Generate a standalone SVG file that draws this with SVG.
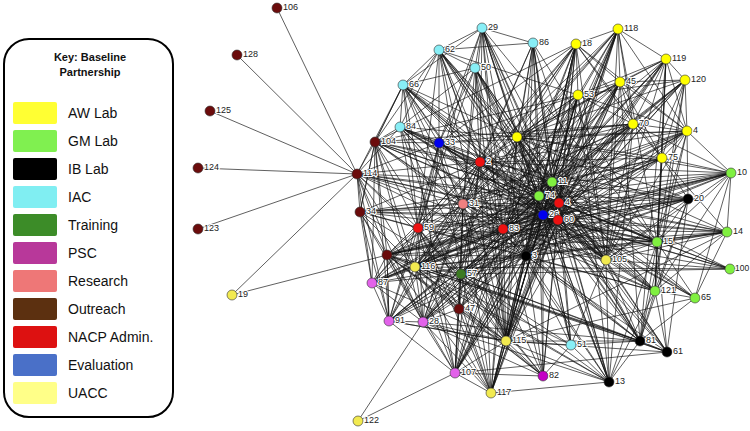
<svg xmlns="http://www.w3.org/2000/svg" width="750" height="431" viewBox="0 0 750 431">
<style>
.e{fill:none;stroke:#141414;stroke-width:0.75;stroke-opacity:0.9}
.node circle{stroke:#303030;stroke-width:0.6}
.node text{font-family:"Liberation Sans",Arial,sans-serif;font-size:9px;fill:#222;paint-order:stroke;stroke:#fff;stroke-width:2;stroke-linejoin:round}
.aw{fill:#ffff00}.ua{fill:#f2ea50}.gm{fill:#80f040}.ib{fill:#000}.iac{fill:#88eef6}.tr{fill:#3c7a22}.psc{fill:#e262ea}.psc2{fill:#c400c4}.rs{fill:#f08080}.br{fill:#6b0c0c}.na{fill:#ee1111}.ev{fill:#0000ee}
.key text{font-family:"Liberation Sans",Arial,sans-serif;font-size:14px;fill:#111}
.key .t{font-size:11px;font-weight:bold;text-anchor:middle}
.sw{stroke:none}
</style>
<rect width="750" height="431" fill="#fff"/>
<g id="legend" class="key">
<rect x="4" y="39" width="169" height="378" rx="25" fill="#fff" stroke="#000" stroke-width="2"/>
<text class="t" x="90" y="61">Key: Baseline</text>
<text class="t" x="90" y="76">Partnership</text>
<rect class="sw" x="13" y="102" width="44" height="22" rx="2" fill="#ffff33"/><text x="68" y="118">AW Lab</text>
<rect class="sw" x="13" y="130" width="44" height="22" rx="2" fill="#80f050"/><text x="68" y="146">GM Lab</text>
<rect class="sw" x="13" y="158" width="44" height="22" rx="2" fill="#000"/><text x="68" y="174">IB Lab</text>
<rect class="sw" x="13" y="186" width="44" height="22" rx="2" fill="#80eef2"/><text x="68" y="202">IAC</text>
<rect class="sw" x="13" y="214" width="44" height="22" rx="2" fill="#3c8c28"/><text x="68" y="230">Training</text>
<rect class="sw" x="13" y="242" width="44" height="22" rx="2" fill="#b8389a"/><text x="68" y="258">PSC</text>
<rect class="sw" x="13" y="270" width="44" height="22" rx="2" fill="#ee7777"/><text x="68" y="286">Research</text>
<rect class="sw" x="13" y="298" width="44" height="22" rx="2" fill="#5c3010"/><text x="68" y="314">Outreach</text>
<rect class="sw" x="13" y="326" width="44" height="22" rx="2" fill="#dd1111"/><text x="68" y="342">NACP Admin.</text>
<rect class="sw" x="13" y="354" width="44" height="22" rx="2" fill="#4a70c8"/><text x="68" y="370">Evaluation</text>
<rect class="sw" x="13" y="382" width="44" height="22" rx="2" fill="#ffff88"/><text x="68" y="398">UACC</text>
</g>
<g id="connectors">
<path class="e" id="e-26" d="M543 215L357 174M543 215L375 142M543 215L360 212M543 215L387 255M543 215L459 309M543 215L400 127M543 215L403 85M543 215L439 50M543 215L482 28M543 215L475 68M543 215L533 43M543 215L571 345M543 215L439 143M543 215L576 44M543 215L618 29M543 215L666 59M543 215L685 80M543 215L620 82M543 215L578 95M543 215L633 124M543 215L687 131M543 215L517 137M543 215L662 158M543 215L606 260M543 215L506 341M543 215L491 393M543 215L415 267M543 215L731 173M543 215L727 232M543 215L657 242M543 215L730 269M543 215L655 291M543 215L695 298M543 215L688 199M543 215L640 341M543 215L667 352M543 215L609 382M543 215L526 256M543 215L543 376M543 215L455 373M543 215L423 322M543 215L389 321M543 215L372 283M543 215L461 274M543 215L463 204M543 215L480 162M543 215L418 228M543 215L503 229"/>
<path class="e" id="e-60" d="M558 220L357 174M558 220L375 142M558 220L360 212M558 220L387 255M558 220L459 309M558 220L400 127M558 220L403 85M558 220L439 50M558 220L482 28M558 220L475 68M558 220L533 43M558 220L571 345M558 220L439 143M558 220L576 44M558 220L618 29M558 220L666 59M558 220L685 80M558 220L620 82M558 220L578 95M558 220L633 124M558 220L687 131M558 220L517 137M558 220L662 158M558 220L606 260M558 220L506 341M558 220L491 393M558 220L415 267M558 220L731 173M558 220L727 232M558 220L657 242M558 220L730 269M558 220L655 291M558 220L695 298M558 220L688 199M558 220L640 341M558 220L667 352M558 220L609 382M558 220L526 256M558 220L543 376M558 220L455 373M558 220L423 322M558 220L389 321M558 220L372 283M558 220L461 274M558 220L463 204M558 220L480 162M558 220L418 228M558 220L503 229"/>
<path class="e" id="e-4r" d="M559 203L357 174M559 203L375 142M559 203L360 212M559 203L387 255M559 203L459 309M559 203L400 127M559 203L403 85M559 203L439 50M559 203L482 28M559 203L475 68M559 203L533 43M559 203L571 345M559 203L439 143M559 203L576 44M559 203L618 29M559 203L666 59M559 203L685 80M559 203L620 82M559 203L578 95M559 203L633 124M559 203L687 131M559 203L517 137M559 203L662 158M559 203L606 260M559 203L506 341M559 203L491 393M559 203L415 267M559 203L731 173M559 203L727 232M559 203L657 242M559 203L730 269M559 203L655 291M559 203L695 298M559 203L688 199M559 203L640 341M559 203L667 352M559 203L609 382M559 203L526 256M559 203L543 376M559 203L455 373M559 203L423 322M559 203L389 321M559 203L372 283M559 203L461 274M559 203L463 204M559 203L480 162M559 203L418 228M559 203L503 229"/>
<path class="e" id="e-74" d="M539 196L357 174M539 196L375 142M539 196L360 212M539 196L400 127M539 196L403 85M539 196L439 50M539 196L482 28M539 196L475 68M539 196L533 43M539 196L439 143M539 196L576 44M539 196L618 29M539 196L666 59M539 196L685 80M539 196L620 82M539 196L578 95M539 196L633 124M539 196L687 131M539 196L662 158M539 196L731 173M539 196L727 232M539 196L688 199M539 196L657 242M539 196L730 269M539 196L606 260M539 196L655 291M539 196L695 298M539 196L640 341M539 196L609 382M539 196L506 341M539 196L491 393M539 196L455 373M539 196L423 322M539 196L389 321M539 196L372 283M539 196L415 267M539 196L461 274M539 196L387 255M539 196L459 309M539 196L543 376M539 196L571 345"/>
<path class="e" id="e-11" d="M552 182L357 174M552 182L375 142M552 182L400 127M552 182L403 85M552 182L439 50M552 182L482 28M552 182L475 68M552 182L533 43M552 182L439 143M552 182L576 44M552 182L618 29M552 182L666 59M552 182L685 80M552 182L620 82M552 182L578 95M552 182L633 124M552 182L687 131M552 182L662 158M552 182L731 173M552 182L727 232M552 182L688 199M552 182L657 242M552 182L730 269M552 182L655 291M552 182L695 298M552 182L667 352M552 182L640 341M552 182L609 382M552 182L506 341M552 182L455 373M552 182L423 322M552 182L389 321M552 182L372 283M552 182L415 267M552 182L461 274M552 182L387 255M552 182L360 212"/>
<path class="e" id="e-3" d="M526 256L357 174M526 256L375 142M526 256L400 127M526 256L403 85M526 256L439 50M526 256L482 28M526 256L475 68M526 256L533 43M526 256L576 44M526 256L618 29M526 256L620 82M526 256L578 95M526 256L633 124M526 256L687 131M526 256L666 59M526 256L685 80M526 256L662 158M526 256L731 173M526 256L688 199M526 256L727 232M526 256L657 242M526 256L655 291M526 256L640 341M526 256L667 352M526 256L609 382M526 256L571 345M526 256L543 376M526 256L506 341M526 256L491 393M526 256L455 373M526 256L423 322M526 256L389 321M526 256L372 283M526 256L415 267M526 256L461 274M526 256L387 255M526 256L360 212"/>
<path class="e" id="e-83" d="M503 229L357 174M503 229L375 142M503 229L360 212M503 229L400 127M503 229L403 85M503 229L439 50M503 229L482 28M503 229L475 68M503 229L533 43M503 229L576 44M503 229L618 29M503 229L620 82M503 229L578 95M503 229L666 59M503 229L685 80M503 229L633 124M503 229L687 131M503 229L662 158M503 229L731 173M503 229L727 232M503 229L688 199M503 229L657 242M503 229L606 260M503 229L655 291M503 229L506 341M503 229L491 393M503 229L455 373M503 229L543 376M503 229L423 322M503 229L389 321M503 229L372 283M503 229L415 267M503 229L461 274M503 229L387 255M503 229L459 309M503 229L640 341M503 229L609 382"/>
<path class="e" id="e-31" d="M463 204L357 174M463 204L375 142M463 204L360 212M463 204L400 127M463 204L403 85M463 204L439 50M463 204L482 28M463 204L475 68M463 204L533 43M463 204L576 44M463 204L618 29M463 204L620 82M463 204L578 95M463 204L633 124M463 204L687 131M463 204L662 158M463 204L657 242M463 204L606 260M463 204L655 291M463 204L506 341M463 204L491 393M463 204L455 373M463 204L543 376M463 204L423 322M463 204L389 321M463 204L372 283M463 204L415 267M463 204L461 274M463 204L387 255M463 204L459 309M463 204L640 341"/>
<path class="e" id="e-2" d="M480 162L357 174M480 162L375 142M480 162L360 212M480 162L387 255M480 162L400 127M480 162L403 85M480 162L439 50M480 162L482 28M480 162L475 68M480 162L533 43M480 162L439 143M480 162L576 44M480 162L618 29M480 162L620 82M480 162L578 95M480 162L633 124M480 162L687 131M480 162L662 158M480 162L606 260M480 162L506 341M480 162L491 393M480 162L455 373M480 162L423 322M480 162L389 321M480 162L372 283M480 162L415 267M480 162L461 274M480 162L459 309M480 162L657 242M480 162L688 199M480 162L731 173"/>
<path class="e" id="e-59" d="M418 228L357 174M418 228L375 142M418 228L360 212M418 228L387 255M418 228L400 127M418 228L403 85M418 228L439 50M418 228L482 28M418 228L475 68M418 228L439 143M418 228L576 44M418 228L578 95M418 228L633 124M418 228L606 260M418 228L506 341M418 228L491 393M418 228L455 373M418 228L543 376M418 228L423 322M418 228L389 321M418 228L372 283M418 228L415 267M418 228L461 274M418 228L459 309M418 228L657 242M418 228L655 291"/>
<path class="e" id="e-114" d="M357 174L277 8M357 174L237 55M357 174L210 111M357 174L198 168M357 174L198 229M357 174L232 295M357 174L375 142M357 174L360 212M357 174L387 255M357 174L400 127M357 174L403 85M357 174L439 143M357 174L372 283M357 174L389 321M357 174L415 267M357 174L461 274M357 174L423 322M232 295L387 255M358 421L423 322M358 421L455 373"/>
<path class="e" id="e-104" d="M375 142L400 127M375 142L403 85M375 142L439 143M375 142L360 212M375 142L387 255M375 142L372 283M375 142L415 267M375 142L461 274M375 142L389 321M375 142L423 322M375 142L439 50M375 142L576 44M375 142L578 95M375 142L633 124"/>
<path class="e" id="e-y1" d="M517 137L439 50M517 137L482 28M517 137L475 68M517 137L533 43M517 137L403 85M517 137L400 127M517 137L576 44M517 137L618 29M517 137L620 82M517 137L578 95M517 137L633 124M517 137L687 131M517 137L666 59M517 137L685 80M517 137L662 158M517 137L606 260M517 137L506 341M517 137L491 393M517 137L657 242M517 137L655 291M517 137L688 199M517 137L731 173M517 137L727 232M517 137L640 341M517 137L609 382M517 137L571 345M517 137L455 373M517 137L423 322"/>
<path class="e" id="e-33" d="M439 143L400 127M439 143L403 85M439 143L439 50M439 143L475 68M439 143L482 28M439 143L576 44M439 143L578 95M439 143L633 124M439 143L687 131M439 143L606 260M439 143L506 341M439 143L423 322M439 143L389 321M439 143L415 267M439 143L461 274"/>
<path class="e" id="e-iac" d="M439 50L482 28M439 50L533 43M439 50L475 68M439 50L403 85M482 28L475 68M482 28L533 43M403 85L475 68M403 85L400 127M439 50L578 95M403 85L375 142M439 50L400 127M475 68L400 127M482 28L403 85M482 28L606 260M533 43L606 260M475 68L506 341M482 28L506 341M439 50L506 341M403 85L506 341M400 127L506 341M533 43L506 341M533 43L657 242M475 68L606 260M439 50L606 260M403 85L606 260M400 127L606 260M482 28L657 242M400 127L491 393M403 85L455 373"/>
<path class="e" id="e-aw" d="M618 29L576 44M618 29L620 82M618 29L666 59M618 29L578 95M618 29L633 124M618 29L687 131M576 44L620 82M576 44L578 95M576 44L633 124M576 44L687 131M576 44L662 158M666 59L620 82M666 59L685 80M666 59L633 124M666 59L687 131M666 59L578 95M685 80L633 124M685 80L687 131M685 80L620 82M685 80L578 95M620 82L578 95M620 82L633 124M620 82L687 131M578 95L633 124M578 95L687 131M633 124L687 131M633 124L662 158M687 131L662 158M662 158L620 82M662 158L685 80M662 158L666 59M687 131L606 260M685 80L606 260M662 158L657 242M662 158L655 291M618 29L606 260M576 44L606 260M666 59L606 260M620 82L606 260M578 95L606 260M633 124L606 260M576 44L506 341M618 29L506 341M620 82L506 341M578 95L506 341M633 124L506 341M618 29L491 393M576 44L491 393M578 95L491 393M666 59L657 242M685 80L657 242M687 131L657 242M666 59L655 291M685 80L655 291M687 131L640 341M666 59L640 341M633 124L609 382M578 95L609 382M620 82L640 341M618 29L657 242M576 44L455 373M620 82L455 373M578 95L423 322M576 44L415 267M618 29L415 267M620 82L415 267M633 124L415 267M666 59L415 267"/>
<path class="e" id="e-gm" d="M731 173L727 232M731 173L657 242M731 173L655 291M731 173L695 298M727 232L657 242M727 232L655 291M727 232L695 298M688 199L657 242M688 199L655 291M688 199L640 341M688 199L667 352M657 242L655 291M657 242L640 341M657 242L667 352M657 242L609 382M655 291L640 341M655 291L667 352M655 291L609 382M695 298L655 291M695 298L657 242M695 298L640 341M730 269L606 260M727 232L606 260M731 173L606 260M688 199L606 260M657 242L606 260M655 291L606 260M731 173L662 158M688 199L662 158M727 232L662 158M731 173L633 124M688 199L415 267M727 232L506 341M695 298L506 341M731 173L687 131M688 199L687 131M730 269L415 267M730 269L461 274M730 269L503 229M727 232L415 267M727 232L461 274M731 173L415 267M731 173L461 274M688 199L461 274M727 232L387 255M731 173L387 255M688 199L387 255"/>
<path class="e" id="e-ib" d="M640 341L609 382M640 341L667 352M609 382L606 260M640 341L606 260M667 352L606 260M609 382L571 345M640 341L571 345M640 341L506 341M609 382L506 341M667 352L506 341M609 382L415 267M640 341L415 267M667 352L415 267M609 382L461 274M640 341L461 274M667 352L461 274M609 382L387 255M640 341L387 255M667 352L387 255M609 382L423 322M640 341L423 322M667 352L455 373M609 382L491 393"/>
<path class="e" id="e-low" d="M455 373L543 376M455 373L491 393M455 373L506 341M455 373L459 309M455 373L423 322M455 373L389 321M491 393L506 341M491 393L459 309M491 393L423 322M543 376L506 341M543 376L459 309M543 376L423 322M506 341L459 309M506 341L423 322M506 341L389 321M423 322L389 321M423 322L372 283M389 321L372 283M372 283L415 267M372 283L387 255M423 322L387 255M389 321L387 255M459 309L387 255M459 309L461 274M461 274L415 267M461 274L387 255M415 267L387 255M423 322L415 267M389 321L415 267M455 373L415 267M455 373L461 274M491 393L461 274M506 341L461 274M543 376L461 274M543 376L571 345M506 341L571 345M571 345L606 260M459 309L415 267M459 309L423 322M423 322L461 274M455 373L387 255M360 212L387 255M360 212L372 283M360 212L415 267M360 212L461 274M360 212L375 142M360 212L389 321M360 212L423 322M387 255L389 321M372 283L461 274M372 283L506 341M389 321L506 341M491 393L387 255M491 393L415 267M543 376L415 267M543 376L387 255M506 341L387 255M506 341L415 267M571 345L415 267M571 345L461 274"/>
</g>
<g id="nodes" class="node">
<g id="n106"><circle class="br" cx="277" cy="8" r="5"/><text x="283" y="10">106</text></g>
<g id="n128"><circle class="br" cx="237" cy="55" r="5"/><text x="243" y="57">128</text></g>
<g id="n125"><circle class="br" cx="210" cy="111" r="5"/><text x="216" y="113">125</text></g>
<g id="n124"><circle class="br" cx="198" cy="168" r="5"/><text x="204" y="170">124</text></g>
<g id="n123"><circle class="br" cx="198" cy="229" r="5"/><text x="204" y="231">123</text></g>
<g id="n19"><circle class="ua" cx="232" cy="295" r="5"/><text x="238" y="297">19</text></g>
<g id="n122"><circle class="ua" cx="358" cy="421" r="5"/><text x="364" y="423">122</text></g>
<g id="n114"><circle class="br" cx="357" cy="174" r="5"/><text x="363" y="176">114</text></g>
<g id="n104"><circle class="br" cx="375" cy="142" r="5"/><text x="381" y="144">104</text></g>
<g id="n34"><circle class="br" cx="360" cy="212" r="5"/><text x="366" y="214">34</text></g>
<g id="nb2"><circle class="br" cx="387" cy="255" r="5"/></g>
<g id="n47"><circle class="br" cx="459" cy="309" r="5"/><text x="465" y="311">47</text></g>
<g id="n84"><circle class="iac" cx="400" cy="127" r="5"/><text x="406" y="129">84</text></g>
<g id="n66"><circle class="iac" cx="403" cy="85" r="5"/><text x="409" y="87">66</text></g>
<g id="n62"><circle class="iac" cx="439" cy="50" r="5"/><text x="445" y="52">62</text></g>
<g id="n29"><circle class="iac" cx="482" cy="28" r="5"/><text x="488" y="30">29</text></g>
<g id="n50"><circle class="iac" cx="475" cy="68" r="5"/><text x="481" y="70">50</text></g>
<g id="n86"><circle class="iac" cx="533" cy="43" r="5"/><text x="539" y="45">86</text></g>
<g id="n51"><circle class="iac" cx="571" cy="345" r="5"/><text x="577" y="347">51</text></g>
<g id="n33"><circle class="ev" cx="439" cy="143" r="5"/><text x="445" y="145">33</text></g>
<g id="n18"><circle class="aw" cx="576" cy="44" r="5"/><text x="582" y="46">18</text></g>
<g id="n118"><circle class="aw" cx="618" cy="29" r="5"/><text x="624" y="31">118</text></g>
<g id="n119"><circle class="aw" cx="666" cy="59" r="5"/><text x="672" y="61">119</text></g>
<g id="n120"><circle class="aw" cx="685" cy="80" r="5"/><text x="691" y="82">120</text></g>
<g id="n45"><circle class="aw" cx="620" cy="82" r="5"/><text x="626" y="84">45</text></g>
<g id="n53"><circle class="aw" cx="578" cy="95" r="5"/><text x="584" y="97">53</text></g>
<g id="n70"><circle class="aw" cx="633" cy="124" r="5"/><text x="639" y="126">70</text></g>
<g id="n4"><circle class="aw" cx="687" cy="131" r="5"/><text x="693" y="133">4</text></g>
<g id="ny1"><circle class="aw" cx="517" cy="137" r="5"/></g>
<g id="n75"><circle class="aw" cx="662" cy="158" r="5"/><text x="668" y="160">75</text></g>
<g id="n105"><circle class="ua" cx="606" cy="260" r="5"/><text x="612" y="262">105</text></g>
<g id="n115"><circle class="ua" cx="506" cy="341" r="5"/><text x="512" y="343">115</text></g>
<g id="n117"><circle class="ua" cx="491" cy="393" r="5"/><text x="497" y="395">117</text></g>
<g id="n116"><circle class="ua" cx="415" cy="267" r="5"/><text x="421" y="269">116</text></g>
<g id="n10"><circle class="gm" cx="731" cy="173" r="5"/><text x="737" y="175">10</text></g>
<g id="n14"><circle class="gm" cx="727" cy="232" r="5"/><text x="733" y="234">14</text></g>
<g id="n15"><circle class="gm" cx="657" cy="242" r="5"/><text x="663" y="244">15</text></g>
<g id="n100"><circle class="gm" cx="730" cy="269" r="5"/><text x="735" y="271" style="font-size:8.5px">100</text></g>
<g id="n121"><circle class="gm" cx="655" cy="291" r="5"/><text x="661" y="293">121</text></g>
<g id="n65"><circle class="gm" cx="695" cy="298" r="5"/><text x="701" y="300">65</text></g>
<g id="n20"><circle class="ib" cx="688" cy="199" r="5"/><text x="694" y="201">20</text></g>
<g id="n81"><circle class="ib" cx="640" cy="341" r="5"/><text x="646" y="343">81</text></g>
<g id="n61"><circle class="ib" cx="667" cy="352" r="5"/><text x="673" y="354">61</text></g>
<g id="n13"><circle class="ib" cx="609" cy="382" r="5"/><text x="615" y="384">13</text></g>
<g id="n3"><circle class="ib" cx="526" cy="256" r="5"/><text x="532" y="258">3</text></g>
<g id="n82"><circle class="psc2" cx="543" cy="376" r="5"/><text x="549" y="378">82</text></g>
<g id="n107"><circle class="psc" cx="455" cy="373" r="5"/><text x="461" y="375">107</text></g>
<g id="n28"><circle class="psc" cx="423" cy="322" r="5"/><text x="429" y="324">28</text></g>
<g id="n91"><circle class="psc" cx="389" cy="321" r="5"/><text x="395" y="323">91</text></g>
<g id="n87"><circle class="psc" cx="372" cy="283" r="5"/><text x="378" y="285">87</text></g>
<g id="n57"><circle class="tr" cx="461" cy="274" r="5"/><text x="467" y="276">57</text></g>
<g id="n31"><circle class="rs" cx="463" cy="204" r="5"/><text x="469" y="206">31</text></g>
<g id="nr2"><circle class="na" cx="480" cy="162" r="5"/><text x="486" y="164">2</text></g>
<g id="nr59"><circle class="na" cx="418" cy="228" r="5"/><text x="424" y="230">59</text></g>
<g id="nr83"><circle class="na" cx="503" cy="229" r="5"/><text x="509" y="231">83</text></g>
<g id="n11"><circle class="gm" cx="552" cy="182" r="5"/><text x="558" y="184">11</text></g>
<g id="n74"><circle class="gm" cx="539" cy="196" r="5"/><text x="545" y="198">74</text></g>
<g id="nr4"><circle class="na" cx="559" cy="203" r="5"/><text x="565" y="205">4</text></g>
<g id="n26"><circle class="ev" cx="543" cy="215" r="5"/><text x="549" y="217">26</text></g>
<g id="nr60"><circle class="na" cx="558" cy="220" r="5"/><text x="564" y="222">60</text></g>
</g>
</svg>
